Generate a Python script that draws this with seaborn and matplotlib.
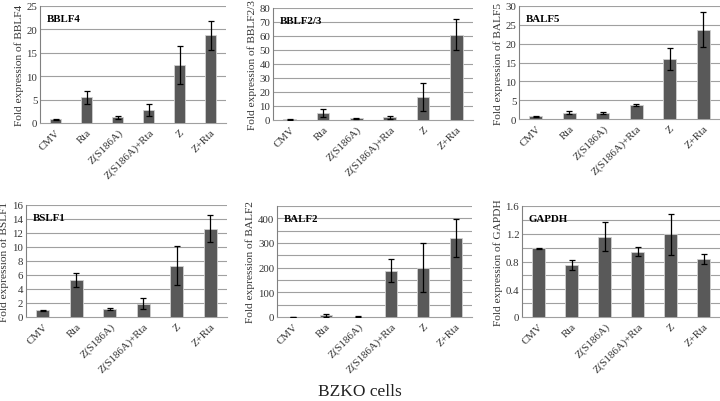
import matplotlib
matplotlib.use("Agg")
import matplotlib.pyplot as plt
import seaborn as sns
import numpy as np
import pandas as pd

sns.set_theme(style="white")
plt.rcParams['font.family'] = ['Liberation Serif', 'DejaVu Serif']

categories = ["CMV", "Rta", "Z(S186A)", "Z(S186A)+Rta", "Z", "Z+Rta"]

bblf4 = [0.8, 5.5, 1.2, 2.85, 12.4, 18.7]
bblf4_err = [0.15, 1.4, 0.25, 1.3, 4.0, 3.0]

bblf23 = [0.5, 5.2, 1.2, 1.9, 16.7, 61.0]
bblf23_err = [0.3, 2.8, 0.4, 1.2, 10.0, 11.0]

balf5 = [0.7, 1.7, 1.5, 3.75, 15.9, 23.7]
balf5_err = [0.2, 0.3, 0.3, 0.2, 3.0, 4.7]

bslf1 = [0.95, 5.3, 1.1, 1.9, 7.35, 12.6]
bslf1_err = [0.1, 1.0, 0.15, 0.8, 2.8, 1.95]

balf2 = [1.0, 7.0, 2.0, 188.0, 200.0, 320.0]
balf2_err = [1.0, 5.0, 1.5, 46.0, 99.0, 76.0]

gapdh = [0.99, 0.745, 1.155, 0.94, 1.19, 0.84]
gapdh_err = [0.01, 0.07, 0.21, 0.065, 0.29, 0.075]

panels = [
    ("BBLF4", bblf4, bblf4_err, 25, 25, 5, 5, [40, 226, 7, 124]),
    ("BBLF2/3", bblf23, bblf23_err, 80, 80, 10, 10, [273, 473, 9, 121]),
    ("BALF5", balf5, balf5_err, 30, 30, 5, 5, [519, 720, 7, 120]),
    ("BSLF1", bslf1, bslf1_err, 16, 16, 2, 2, [26, 227, 206, 318]),
    ("BALF2", balf2, balf2_err, 450, 400, 100, 50, [277, 472, 207, 318]),
    ("GAPDH", gapdh, gapdh_err, 1.6, 1.6, 0.4, 0.2, [522, 720, 207, 318]),
]

W, H = 720, 402
fig = plt.figure(figsize=(7.2, 4.02), dpi=100)

for name, vals, errs, ymax, tickmax, major, minor, (l, r, t, b) in panels:
    ax = fig.add_axes([l / W, 1 - b / H, (r - l) / W, (b - t) / H])
    df = pd.DataFrame({"cond": categories, "val": vals})
    sns.barplot(data=df, x="cond", y="val", ax=ax, color="#595959",
                width=0.38, edgecolor="#d0d0d0", linewidth=0.6,
                saturation=1, errorbar=None, zorder=3)
    ax.errorbar(np.arange(len(categories)), vals, yerr=errs, fmt="none",
                ecolor="black", elinewidth=0.9, capsize=2.2, capthick=0.9,
                zorder=4)
    ax.set_xlim(-0.5, len(categories) - 0.5)
    ax.set_ylim(0, ymax)
    ticks = np.arange(0, tickmax + 1e-9, major)
    ax.set_yticks(ticks)
    ax.set_yticklabels(["{:g}".format(round(v, 2)) for v in ticks])
    for g in np.arange(minor, ymax + 1e-9, minor):
        ax.axhline(g, color="#a0a0a0", lw=0.8, zorder=1)
    for s in ["top", "right"]:
        ax.spines[s].set_visible(False)
    ax.spines["left"].set_color("#808080")
    ax.spines["left"].set_linewidth(0.8)
    ax.spines["bottom"].set_color("#a0a0a0")
    ax.spines["bottom"].set_linewidth(0.8)
    ax.tick_params(axis="y", length=0, pad=2, labelsize=7.8, colors="#333333")
    ax.tick_params(axis="x", length=0, pad=3, labelsize=7.8, colors="#333333")
    ax.set_xticks(np.arange(len(categories)))
    ax.set_xticklabels(categories, rotation=45, ha="right",
                       rotation_mode="anchor")
    ax.set_xlabel("")
    ax.set_ylabel("Fold expression of " + name, fontsize=8.2,
                  color="#333333", labelpad=2)
    ax.text(0.035, 0.93, name, transform=ax.transAxes, fontsize=7.8,
            fontweight="bold", va="top", ha="left", color="black")
    ax.grid(False)

fig.text(0.5, 1 - 396 / H, "BZKO cells", ha="center", va="baseline",
         fontsize=12.5, color="#222222")

fig.savefig("out.png", dpi=100)
